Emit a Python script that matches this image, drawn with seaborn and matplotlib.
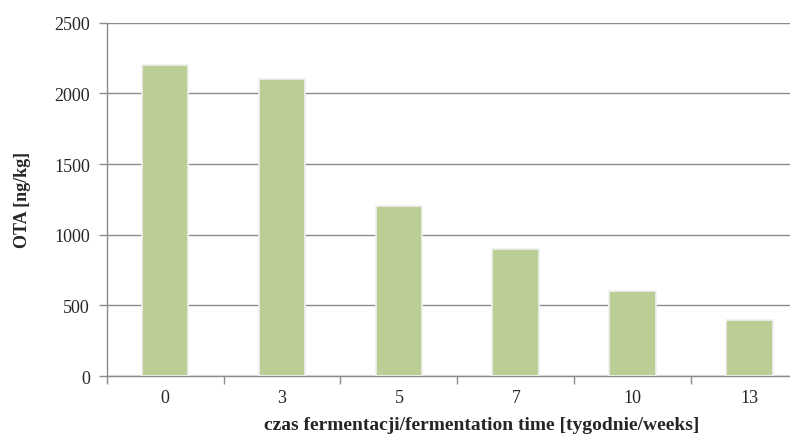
import pandas as pd
import numpy as np
import matplotlib
matplotlib.use('Agg')
import matplotlib.pyplot as plt
import seaborn as sns

weeks = ['0', '3', '5', '7', '10', '13']
ota = [2200, 2100, 1200, 900, 600, 400]

df = pd.DataFrame({'weeks': weeks, 'ota': ota})

sns.set_style('white')
plt.rcParams['font.family'] = ['Liberation Serif', 'DejaVu Serif']

fig = plt.figure(figsize=(7.9, 4.39), dpi=100)
ax = fig.add_axes([0.135, 0.141, 0.888, 0.805])

sns.barplot(data=df, x='weeks', y='ota', order=weeks, color='#BACE96',
            saturation=1, width=0.4, edgecolor='#F0F0F0', linewidth=1.2, ax=ax, zorder=3)

ax.set_ylim(0, 2500)
ax.set_xlim(-0.5, 5.5)
ax.set_yticks([0, 500, 1000, 1500, 2000, 2500])
ax.yaxis.grid(True, color='#8C8C8C', linewidth=1, zorder=0)
ax.set_axisbelow(True)

# tick marks between categories
ax.set_xticks(np.arange(len(weeks)))
ax.set_xticklabels(weeks)
ax.set_xticks(np.arange(len(weeks) + 1) - 0.5, minor=True)
ax.tick_params(axis='x', which='major', length=0, pad=9, labelsize=13)
ax.tick_params(axis='x', which='minor', length=6, width=1, color='#8C8C8C', direction='out')
ax.tick_params(axis='y', length=6, width=1, color='#8C8C8C', direction='out', pad=6, labelsize=13)
ax.tick_params(bottom=True, left=True, which='both')

for s in ['top', 'right']:
    ax.spines[s].set_visible(False)
for s in ['left', 'bottom']:
    ax.spines[s].set_color('#8C8C8C')
    ax.spines[s].set_linewidth(1)

ax.set_ylabel('OTA [ng/kg]', fontsize=13, fontweight='bold', va='center')
ax.yaxis.set_label_coords(-0.12, 0.5)
ax.set_xlabel('czas fermentacji/fermentation time [tygodnie/weeks]', fontsize=14,
              fontweight='bold', va='center')
ax.xaxis.set_label_coords(0.535, -0.138)

fig.savefig('out.png', dpi=100)
